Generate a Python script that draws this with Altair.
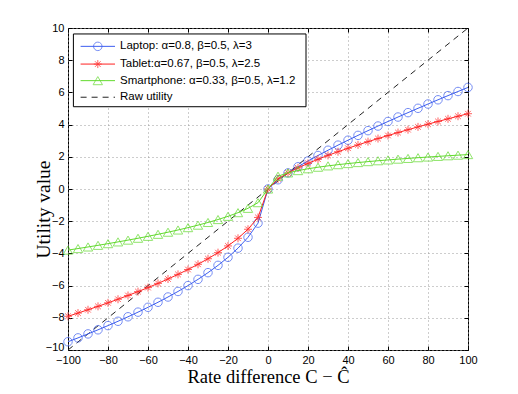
import altair as alt
import pandas as pd

# ---- data ----
x_vals = list(range(-100, 101, 5))
laptop = [-9.487, -9.247, -9.0, -8.746, -8.485, -8.216, -7.937, -7.649, -7.348, -7.036,
          -6.708, -6.364, -6.0, -5.612, -5.196, -4.743, -4.243, -3.674, -3.0, -2.121,
          0.0,
          0.574, 1.0, 1.383, 1.741, 2.081, 2.408, 2.724, 3.031, 3.331, 3.624,
          3.911, 4.193, 4.470, 4.743, 5.012, 5.278, 5.541, 5.800, 6.056, 6.310]
tablet = [-7.906, -7.706, -7.5, -7.289, -7.071, -6.847, -6.614, -6.374, -6.124, -5.863,
          -5.590, -5.303, -5.0, -4.677, -4.330, -3.953, -3.536, -3.062, -2.5, -1.768,
          0.0,
          0.629, 1.0, 1.312, 1.591, 1.848, 2.088, 2.315, 2.531, 2.739, 2.940,
          3.133, 3.322, 3.505, 3.683, 3.857, 4.028, 4.195, 4.359, 4.520, 4.677]
smartphone = [-3.795, -3.699, -3.6, -3.499, -3.394, -3.286, -3.175, -3.059, -2.939, -2.814,
              -2.683, -2.546, -2.4, -2.245, -2.078, -1.897, -1.697, -1.470, -1.2, -0.849,
              0.0,
              0.796, 1.0, 1.143, 1.257, 1.353, 1.437, 1.512, 1.580, 1.643, 1.701,
              1.755, 1.806, 1.855, 1.900, 1.944, 1.986, 2.026, 2.065, 2.102, 2.138]
raw_x = [-100, 100]
raw_y = [-10, 10]

series_names = ["Laptop", "Tablet", "Smartphone"]
legend_labels = ["Laptop: α=0.8, β=0.5, λ=3",
                 "Tablet:α=0.67, β=0.5, λ=2.5",
                 "Smartphone: α=0.33, β=0.5, λ=1.2",
                 "Raw utility"]
x_ticks = list(range(-100, 101, 20))
y_ticks = list(range(-10, 11, 2))

# ---- styles ----
colors = ["#3d5ef0", "#ff2020", "#62da2e"]
star = "M-1,0L1,0M0,-1L0,1M-0.7,-0.7L0.7,0.7M-0.7,0.7L0.7,-0.7"
shapes = ["circle", star, "triangle-up"]
sizes = [72, 64, 88]
raw_color = "#222222"

xscale = alt.Scale(domain=[-100, 100], nice=False, zero=False)
yscale = alt.Scale(domain=[-10, 10], nice=False, zero=False)

common_axis = dict(labelFont="Liberation Sans", labelFontSize=11, labelColor="black",
                   tickColor="black", domain=False, labelFlush=False,
                   titleFont="Liberation Serif",
                   titleFontWeight="normal", titleColor="black")

x_main = alt.Axis(values=x_ticks, orient="bottom", offset=-4, tickSize=4, labelPadding=4,
                  grid=True, gridDash=[1, 3], gridColor="#9a9a9a",
                  title="Rate difference C − Ĉ", titlePadding=2, titleFontSize=18.5,
                  **common_axis)
y_main = alt.Axis(values=y_ticks, orient="left", offset=-4, tickSize=4, labelPadding=4,
                  labelOffset={"condition": {"test": "datum.value == -10", "value": -3}, "value": 0},
                  grid=True, gridDash=[1, 3], gridColor="#9a9a9a",
                  title="Utility value", titleX=-19, titleY=181, titleBaseline="bottom",
                  titleFontSize=19.5, **common_axis)
x_top = alt.Axis(values=x_ticks, orient="top", offset=-4, tickSize=4, labels=False,
                 grid=False, title=None, domain=False, tickColor="black")
y_right = alt.Axis(values=y_ticks, orient="right", offset=-4, tickSize=4, labels=False,
                   grid=False, title=None, domain=False, tickColor="black")

layers = []

# raw utility (also carries top/right inward ticks)
raw_df = pd.DataFrame({"x": raw_x, "y": raw_y})
layers.append(
    alt.Chart(raw_df).mark_line(color=raw_color, strokeWidth=1, strokeDash=[6, 5]).encode(
        x=alt.X("x:Q", scale=xscale, axis=x_top),
        y=alt.Y("y:Q", scale=yscale, axis=y_right),
    )
)

first = True
for name, vals, col, shp, sz in zip(series_names, [laptop, tablet, smartphone], colors, shapes, sizes):
    d = pd.DataFrame({"x": x_vals, "y": vals})
    xa = x_main if first else None
    ya = y_main if first else None
    line = alt.Chart(d).mark_line(color=col, strokeWidth=1).encode(
        x=alt.X("x:Q", scale=xscale, axis=xa),
        y=alt.Y("y:Q", scale=yscale, axis=ya),
    )
    pts = alt.Chart(d).mark_point(shape=shp, filled=False, color=col, size=sz, strokeWidth=1).encode(
        x=alt.X("x:Q", scale=xscale, axis=None),
        y=alt.Y("y:Q", scale=yscale, axis=None),
    )
    layers += [line, pts]
    first = False

# ---- legend box (in data coordinates) ----
leg_rows_y = [8.86, 7.76, 6.73, 5.70]
box = pd.DataFrame({"x": [-97.3], "x2": [19.0], "y": [5.11], "y2": [9.63]})
layers.append(
    alt.Chart(box).mark_rect(fill="white", stroke="black", strokeWidth=1).encode(
        x=alt.X("x:Q", scale=xscale, axis=None), x2="x2:Q",
        y=alt.Y("y:Q", scale=yscale, axis=None), y2="y2:Q",
    )
)
for i, lab in enumerate(legend_labels):
    ly = leg_rows_y[i]
    seg = pd.DataFrame({"x": [-93.7], "x2": [-76.5], "y": [ly]})
    if i < 3:
        rule = alt.Chart(seg).mark_rule(color=colors[i], strokeWidth=1)
    else:
        rule = alt.Chart(seg).mark_rule(color=raw_color, strokeWidth=1, strokeDash=[6, 5])
    layers.append(rule.encode(x=alt.X("x:Q", scale=xscale, axis=None), x2="x2:Q",
                              y=alt.Y("y:Q", scale=yscale, axis=None)))
    if i < 3:
        mk = pd.DataFrame({"x": [-85.1], "y": [ly]})
        layers.append(
            alt.Chart(mk).mark_point(shape=shapes[i], filled=False, color=colors[i],
                                     size=sizes[i], strokeWidth=1).encode(
                x=alt.X("x:Q", scale=xscale, axis=None),
                y=alt.Y("y:Q", scale=yscale, axis=None))
        )
    tx = pd.DataFrame({"x": [-74.0], "y": [ly], "t": [lab]})
    layers.append(
        alt.Chart(tx).mark_text(align="left", baseline="middle", font="Liberation Sans",
                                fontSize=11.5, color="black").encode(
            x=alt.X("x:Q", scale=xscale, axis=None),
            y=alt.Y("y:Q", scale=yscale, axis=None),
            text="t:N")
    )

chart = alt.layer(*layers).resolve_axis(x="independent", y="independent").properties(
    width=400, height=322,
    autosize=alt.AutoSizeParams(type="none"),
    padding={"left": 60, "top": 20, "right": 42, "bottom": 36},
    background="white",
).configure_view(stroke="black", strokeWidth=1)

chart.save("out.html", embed_options={"renderer": "svg", "actions": False})
